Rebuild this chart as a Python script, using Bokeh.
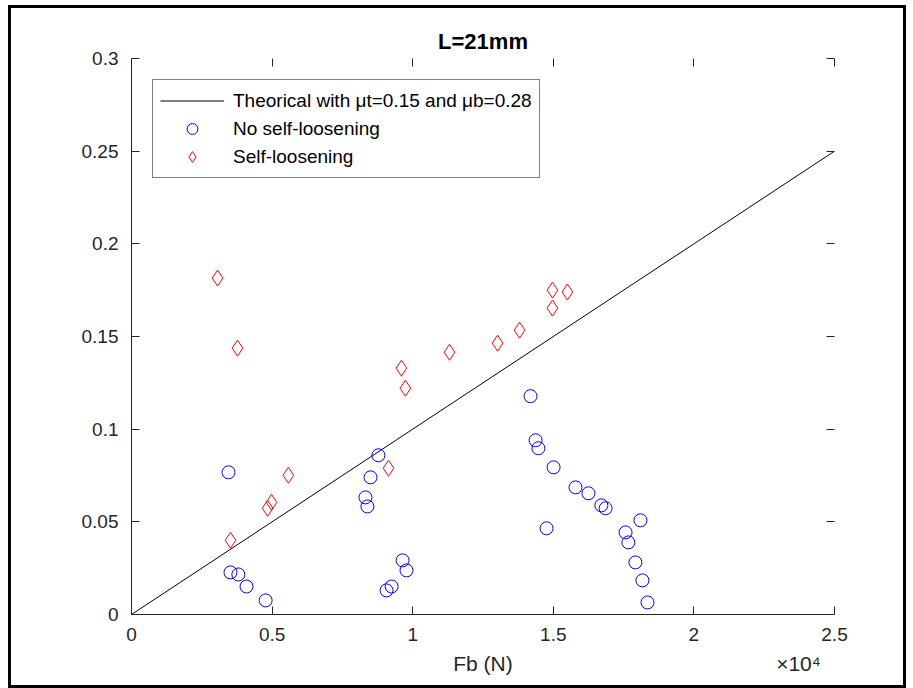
import math
from bokeh.plotting import figure
from bokeh.models import (Range1d, FixedTicker, LinearAxis, Legend, LegendItem, Label)
from bokeh.embed import file_html
from bokeh.resources import INLINE

# ---------------- data (Fb in units of 1e4 N, Delta in mm) ----------------
theory_fb = [0.0, 2.5]
theory_delta = [0.0, 0.25]

no_loosen_fb = [0.345, 0.352, 0.380, 0.409, 0.477, 0.878, 0.850, 0.832, 0.839,
                0.964, 0.978, 0.907, 0.925, 1.419, 1.437, 1.447, 1.501, 1.476,
                1.579, 1.625, 1.671, 1.686, 1.810, 1.757, 1.767, 1.792, 1.817, 1.835]
no_loosen_delta = [0.0767, 0.0227, 0.0216, 0.0151, 0.0076, 0.0859, 0.0740, 0.0632, 0.0583,
                   0.0292, 0.0238, 0.0130, 0.0151, 0.1178, 0.0940, 0.0897, 0.0794, 0.0465,
                   0.0686, 0.0654, 0.0589, 0.0573, 0.0508, 0.0443, 0.0389, 0.0281, 0.0184, 0.0065]

self_loosen_fb = [0.306, 0.377, 0.352, 0.484, 0.498, 0.558, 0.914, 0.960, 0.974,
                  1.131, 1.302, 1.380, 1.497, 1.497, 1.550]
self_loosen_delta = [0.1815, 0.1437, 0.0400, 0.0573, 0.0605, 0.0751, 0.0789, 0.1329, 0.1221,
                     0.1415, 0.1464, 0.1534, 0.1653, 0.1750, 0.1740]

x_ticks = [0, 0.5, 1, 1.5, 2, 2.5]
x_tick_labels = ["0", "0.5", "1", "1.5", "2", "2.5"]
y_ticks = [0, 0.05, 0.1, 0.15, 0.2, 0.25, 0.3]
y_tick_labels = ["0", "0.05", "0.1", "0.15", "0.2", "0.25", "0.3"]

title_text = "L=21mm"
x_label = "Fb (N)"
x_multiplier = "\u00d710\u2074"
legend_labels = ["Theorical with \u03bct=0.15 and \u03bcb=0.28", "No self-loosening", "Self-loosening"]

FONT = "Liberation Sans"
AX = "#262626"

p = figure(width=892, height=677, output_backend="svg", toolbar_location=None,
           x_range=Range1d(0, 2.5), y_range=Range1d(0, 0.3),
           min_border_left=120, min_border_right=75, min_border_top=50, min_border_bottom=77)
p.styles = {"border": "3px solid black", "box-sizing": "content-box",
            "margin-left": "8px", "margin-top": "5px"}
p.outline_line_color = None
p.xgrid.visible = False
p.ygrid.visible = False
p.background_fill_color = "white"
p.border_fill_color = "white"

p.title.text = title_text
p.title.align = "center"
p.title.text_font = FONT
p.title.text_font_size = "22px"
p.title.text_font_style = "bold"
p.title.text_color = "black"


def style_axis(ax, ticks, labels, show_labels=True, show_line=True):
    ax.ticker = FixedTicker(ticks=ticks)
    ax.major_label_overrides = {t: l for t, l in zip(ticks, labels)}
    ax.major_tick_in = 8
    ax.major_tick_out = 0
    ax.minor_tick_line_color = None
    ax.major_tick_line_color = AX
    ax.axis_line_color = AX if show_line else None
    ax.major_label_text_font = FONT
    if show_labels:
        ax.major_label_text_color = AX
        ax.major_label_text_font_size = "19px"
    else:
        ax.major_label_text_color = None
        ax.major_label_text_font_size = "0px"
        ax.major_label_standoff = 0


xa = p.xaxis[0]
style_axis(xa, x_ticks, x_tick_labels)
xa.major_label_standoff = 13

ya = p.yaxis[0]
style_axis(ya, y_ticks, y_tick_labels)
ya.major_label_standoff = 13

top_ax = LinearAxis()
style_axis(top_ax, x_ticks, x_tick_labels, show_labels=False, show_line=False)
p.add_layout(top_ax, "above")
right_ax = LinearAxis()
style_axis(right_ax, y_ticks, y_tick_labels, show_labels=False, show_line=False)
p.add_layout(right_ax, "right")

# second bottom row: x-axis title and the x10^4 multiplier, placed by the x scale
label_pos = [(p.x_range.start + p.x_range.end) / 2, 2.372]
label_ax = LinearAxis(ticker=FixedTicker(ticks=label_pos),
                      major_label_overrides={label_pos[0]: x_label, label_pos[1]: x_multiplier})
label_ax.axis_line_color = None
label_ax.major_tick_line_color = None
label_ax.minor_tick_line_color = None
label_ax.major_label_standoff = 2
label_ax.major_label_text_font = FONT
label_ax.major_label_text_font_size = "21px"
label_ax.major_label_text_color = AX
p.add_layout(label_ax, "below")

# ---------------- marks ----------------
r_line = p.line(theory_fb, theory_delta, line_color="black", line_width=1)
r_no = p.scatter(no_loosen_fb, no_loosen_delta, marker="circle", size=13,
                 line_color="#0000ff", fill_color=None, line_width=1)
r_self = p.scatter(self_loosen_fb, self_loosen_delta, marker="diamond", size=16,
                   line_color="#ff0000", fill_color=None, line_width=1)

legend = Legend(items=[LegendItem(label=legend_labels[0], renderers=[r_line]),
                       LegendItem(label=legend_labels[1], renderers=[r_no]),
                       LegendItem(label=legend_labels[2], renderers=[r_self])],
                location="top_left")
legend.margin = 21
legend.padding = 7
legend.spacing = 1
legend.glyph_width = 64
legend.glyph_height = 27
legend.label_height = 27
legend.label_standoff = 9
legend.label_text_font = FONT
legend.label_text_font_size = "19px"
legend.label_text_color = "black"
legend.border_line_color = "black"
legend.border_line_width = 1
legend.background_fill_color = "white"
legend.background_fill_alpha = 1
p.add_layout(legend)

# ---------------- y-axis label with subscript ----------------
half_pi = math.pi / 2
p.add_layout(Label(x=-76, y=267, x_units="screen", y_units="screen", text="Delta",
                   angle=half_pi, text_align="right", text_baseline="alphabetic",
                   text_font=FONT, text_font_size="22px", text_color=AX))
p.add_layout(Label(x=-70, y=268, x_units="screen", y_units="screen", text="q",
                   angle=half_pi, text_align="left", text_baseline="alphabetic",
                   text_font=FONT, text_font_size="15px", text_color=AX))
p.add_layout(Label(x=-76, y=291, x_units="screen", y_units="screen", text="(mm)",
                   angle=half_pi, text_align="left", text_baseline="alphabetic",
                   text_font=FONT, text_font_size="22px", text_color=AX))

open("out.html", "w").write(file_html(p, INLINE))
